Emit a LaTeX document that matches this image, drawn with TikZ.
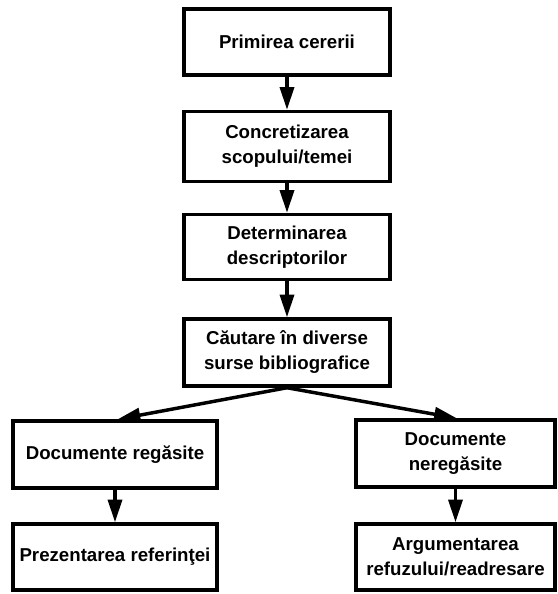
\documentclass[tikz,border=0pt]{standalone}
\usepackage{fontspec}
\setmainfont{Liberation Sans}
\usetikzlibrary{arrows.meta}
\begin{document}
\begin{tikzpicture}[x=0.75pt,y=-0.75pt,
  box/.style={draw=black,line width=2.6pt,rectangle,inner sep=0pt,align=center,
    font=\fontsize{14pt}{18.75pt}\selectfont\bfseries},
  arr/.style={line width=2.6pt,-{Triangle[length=17pt,width=10.5pt]}}]
\path[use as bounding box,fill=white] (0,0) rectangle (558,594);
\node[box,minimum width=154.5pt,minimum height=49.5pt] (b1) at (287,42) {Primirea cererii};
\node[box,minimum width=154.5pt,minimum height=52.5pt] (b2) at (287,146.5) {Concretizarea\\scopului/temei};
\node[box,minimum width=154.5pt,minimum height=48.75pt] (b3) at (287,247) {Determinarea\\descriptorilor};
\node[box,minimum width=154.5pt,minimum height=50.25pt] (b4) at (287,352.5) {Căutare în diverse\\surse bibliografice};
\node[box,minimum width=153pt,minimum height=50.25pt] (b5) at (115,454.5) {Documente regăsite};
\node[box,minimum width=153pt,minimum height=49.5pt] (b6) at (115,557) {Prezentarea referinţei};
\node[box,minimum width=149.25pt,minimum height=50.25pt] (b7) at (455.5,453.5) {Documente\\neregăsite};
\node[box,minimum width=149.25pt,minimum height=49.5pt] (b8) at (455.5,557) {Argumentarea\\refuzului/readresare};
\draw[arr] (b1) -- (b2);
\draw[arr] (b2) -- (b3);
\draw[arr] (b3) -- (b4);
\draw[arr] (b4.south) -- ([xshift=2pt]b5.north);
\draw[arr] (b4.south) -- ([xshift=1pt]b7.north);
\draw[arr] (b5) -- (b6);
\draw[arr] (b7) -- (b8);
\end{tikzpicture}
\end{document}
